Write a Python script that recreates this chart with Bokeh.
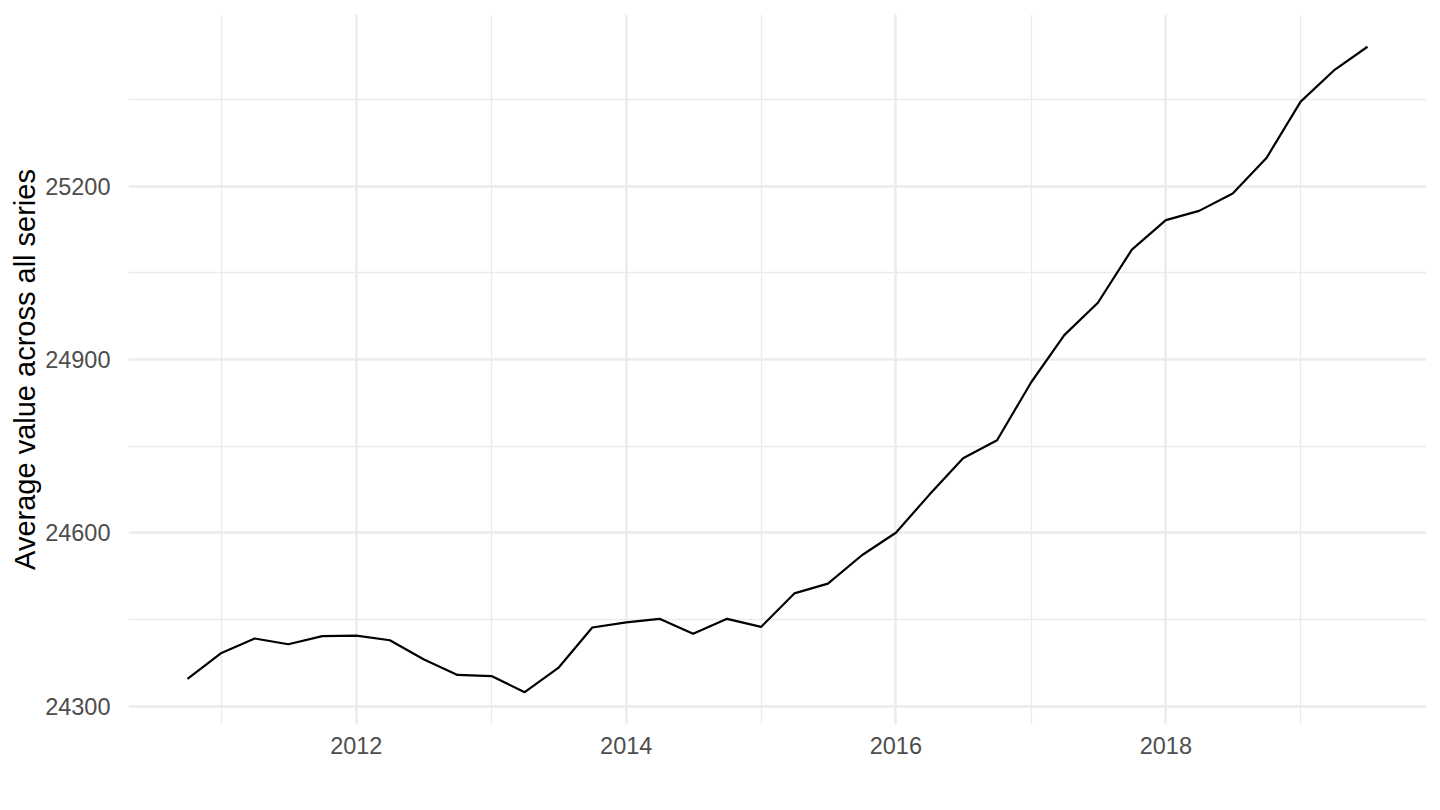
import pandas as pd
from bokeh.plotting import figure
from bokeh.models import FixedTicker, Range1d, DatetimeTickFormatter
from bokeh.embed import file_html
from bokeh.resources import INLINE

# quarterly averages
quarters = [
    "2010-10-01", "2011-01-01", "2011-04-01", "2011-07-01", "2011-10-01",
    "2012-01-01", "2012-04-01", "2012-07-01", "2012-10-01",
    "2013-01-01", "2013-04-01", "2013-07-01", "2013-10-01",
    "2014-01-01", "2014-04-01", "2014-07-01", "2014-10-01",
    "2015-01-01", "2015-04-01", "2015-07-01", "2015-10-01",
    "2016-01-01", "2016-04-01", "2016-07-01", "2016-10-01",
    "2017-01-01", "2017-04-01", "2017-07-01", "2017-10-01",
    "2018-01-01", "2018-04-01", "2018-07-01", "2018-10-01",
    "2019-01-01", "2019-04-01", "2019-07-01",
]
avg_values = [
    24347, 24392, 24417, 24407, 24421,
    24422, 24414, 24381, 24354,
    24352, 24324, 24366, 24436,
    24445, 24451, 24425, 24451,
    24437, 24495, 24512, 24561,
    24600, 24666, 24729, 24760,
    24860, 24942, 24998, 25090,
    25141, 25157, 25187, 25249,
    25346, 25400, 25441,
]
x_tick_years = [2012, 2014, 2016, 2018]
x_minor_years = [2011, 2013, 2015, 2017, 2019]
y_ticks = [24300, 24600, 24900, 25200]
y_minor = [24450, 24750, 25050, 25350]

dates = pd.to_datetime(quarters)


def ms(ts):
    return pd.Timestamp(ts).value / 1e6


# ggplot style 5% expansion on both axes
x0, x1 = ms(dates[0]), ms(dates[-1])
xpad = 0.05 * (x1 - x0)
ymin, ymax = min(avg_values), max(avg_values)
ypad = 0.05 * (ymax - ymin)

p = figure(
    width=1440, height=810,
    x_axis_type="datetime",
    x_range=Range1d(x0 - xpad, x1 + xpad),
    y_range=Range1d(ymin - ypad, ymax + ypad),
    output_backend="svg",
    toolbar_location=None,
    tools="",
    min_border_left=128, min_border_right=14,
    min_border_top=14, min_border_bottom=86,
)

p.line(dates, avg_values, line_color="black", line_width=2.2)

xticker = FixedTicker(
    ticks=[ms(f"{y}-01-01") for y in x_tick_years],
    minor_ticks=[ms(f"{y}-01-01") for y in x_minor_years],
)
yticker = FixedTicker(ticks=y_ticks, minor_ticks=y_minor)
p.xaxis.ticker = xticker
p.yaxis.ticker = yticker
p.xgrid.ticker = xticker
p.ygrid.ticker = yticker
p.xaxis.formatter = DatetimeTickFormatter(years="%Y", months="%Y", days="%Y")

p.yaxis.axis_label = "Average value across all series"

for ax in (p.xaxis, p.yaxis):
    ax.axis_line_color = None
    ax.major_tick_line_color = None
    ax.minor_tick_line_color = None
    ax.major_label_text_font = "Liberation Sans"
    ax.major_label_text_font_size = "23.5px"
    ax.major_label_text_color = "#4D4D4D"
    ax.axis_label_text_font = "Liberation Sans"
    ax.axis_label_text_font_size = "29px"
    ax.axis_label_text_font_style = "normal"
    ax.axis_label_text_color = "black"

p.xaxis.major_label_standoff = 6
p.yaxis.major_label_standoff = 12
p.yaxis.axis_label_standoff = 1

for g in (p.xgrid, p.ygrid):
    g.grid_line_color = "#EBEBEB"
    g.grid_line_width = 2.4
    g.minor_grid_line_color = "#EBEBEB"
    g.minor_grid_line_width = 1.3

p.outline_line_color = None
p.background_fill_color = "white"
p.border_fill_color = "white"

open("out.html", "w").write(file_html(p, INLINE))
